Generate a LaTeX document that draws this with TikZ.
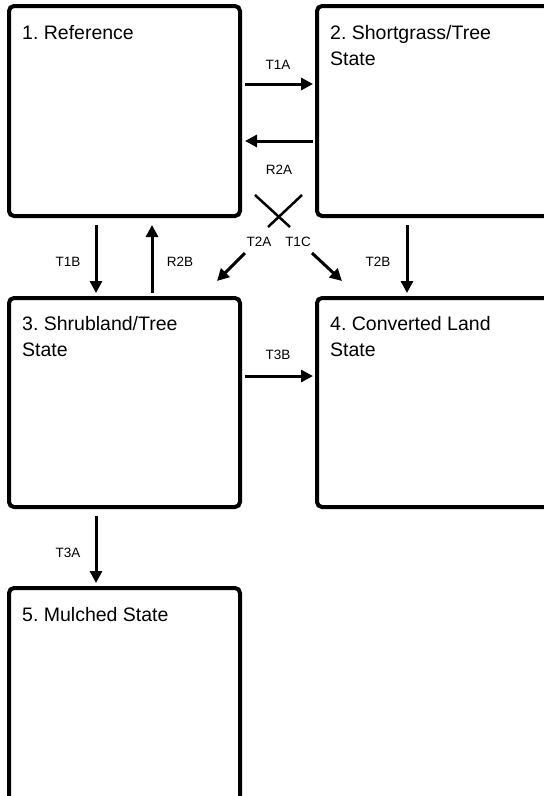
\documentclass[tikz,border=0pt]{standalone}
\usepackage{fontspec}
\setmainfont{Liberation Sans}
\usetikzlibrary{arrows.meta}
\begin{document}
\frenchspacing
\begin{tikzpicture}[x=1pt,y=-1pt,
  statebox/.style={draw=black, line width=4pt, rounded corners=5pt, fill=white, inner sep=0pt},
  statetext/.style={anchor=base west, inner sep=0pt, align=left, font=\fontsize{19.5}{26}\selectfont},
  trans/.style={line width=3pt, -{Triangle[length=12pt,width=12pt]}},
  lbl/.style={inner sep=0pt, font=\fontsize{13.5}{16}\selectfont},
  crossline/.style={line width=2.5pt}]
\useasboundingbox (0,0) rectangle (544,796);
\clip (0,0) rectangle (544,796);
\fill[white] (0,0) rectangle (544,796);
% boxes
\node[statebox, minimum width=231pt, minimum height=210pt] (b1) at (124.5,111) {};
\node[statebox, minimum width=248pt, minimum height=210pt] (b2) at (441,111) {};
\node[statebox, minimum width=231pt, minimum height=209pt] (b3) at (124.5,402.5) {};
\node[statebox, minimum width=248pt, minimum height=209pt] (b4) at (441,402.5) {};
\node[statebox, minimum width=231pt, minimum height=242pt] (b5) at (124.5,709) {};
% texts (base anchor of a two-line node is the baseline of its last line)
\node[statetext] (t1) at (22,39) {1. Reference};
\node[statetext] (t2) at (330,65) {2. Shortgrass/Tree\\State};
\node[statetext] (t3) at (22,356) {3. Shrubland/Tree\\State};
\node[statetext] (t4) at (330,356) {4. Converted Land\\State};
\node[statetext] (t5) at (22,621) {5. Mulched State};
% arrow endpoints
\coordinate (a1s) at (245,84);  \coordinate (a1e) at (313,84);
\coordinate (a2s) at (313,141); \coordinate (a2e) at (245,141);
\coordinate (a3s) at (96,225);  \coordinate (a3e) at (96,293);
\coordinate (a4s) at (152,293); \coordinate (a4e) at (152,225);
\coordinate (a5s) at (245,253); \coordinate (a5e) at (217,281);
\coordinate (a6s) at (312,253); \coordinate (a6e) at (342,281);
\coordinate (a7s) at (407,225); \coordinate (a7e) at (407,293);
\coordinate (a8s) at (245,376); \coordinate (a8e) at (313,376);
\coordinate (a9s) at (96,516);  \coordinate (a9e) at (96,583);
\coordinate (c1s) at (255,195); \coordinate (c1e) at (290,227);
\coordinate (c2s) at (302,195); \coordinate (c2e) at (268,227);
\draw[trans] (a1s) -- (a1e);
\draw[trans] (a2s) -- (a2e);
\draw[trans] (a3s) -- (a3e);
\draw[trans] (a4s) -- (a4e);
\draw[trans] (a5s) -- (a5e);
\draw[trans] (a6s) -- (a6e);
\draw[trans] (a7s) -- (a7e);
\draw[trans] (a8s) -- (a8e);
\draw[trans] (a9s) -- (a9e);
\draw[crossline] (c1s) -- (c1e);
\draw[crossline] (c2s) -- (c2e);
% labels
\node[lbl] (l1) at (278,65) {T1A};
\node[lbl] (l2) at (279,170) {R2A};
\node[lbl] (l3) at (259,242) {T2A};
\node[lbl] (l4) at (298,242) {T1C};
\node[lbl] (l5) at (378,262) {T2B};
\node[lbl] (l6) at (68,262) {T1B};
\node[lbl] (l7) at (180,262) {R2B};
\node[lbl] (l8) at (278,355) {T3B};
\node[lbl] (l9) at (68,553) {T3A};
\end{tikzpicture}
\end{document}
